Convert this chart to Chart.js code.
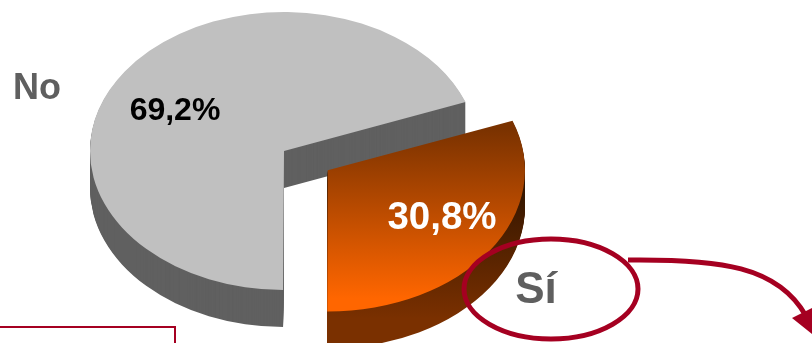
<!DOCTYPE html>
<html lang="es">
<head>
<meta charset="utf-8">
<title>Sí / No</title>
<script src="https://cdn.jsdelivr.net/npm/chart.js@4/dist/chart.umd.js"></script>
<style>
  html, body { margin: 0; padding: 0; background: #fff; overflow: hidden; }
  canvas { display: block; }
</style>
</head>
<body>
<canvas id="chart" width="812" height="343"></canvas>
<script>
// ── Data ──
const categories = ['Sí', 'No'];
const shares = [30.8, 69.2];
const explode = [141, 0];

// ── Look ──
const crimson = '#a50021';
const greyTop = '#c0c0c0';
const greyWall = '#606060';
const pieRadius = 139;
const stretchX = 194 / 139;   // pie is drawn as a circle, then flattened into an ellipse
const pieCentre = { x: 284, y: 151 };
const depth = 37;
const sliceNudge = [[2.4, -1], [0, 0]];

const labelSpots = {
  'No':    { name: [37, 89, 36, '#5f5f5f'], pct: [175, 111, 32, '#000'] },
  'Sí':    { name: [536, 291, 44, '#5f5f5f'], pct: [442, 218, 38.5, '#fff'] }
};

const fmt = v => v.toFixed(1).replace('.', ',') + '%';

function orangeTop(ctx) {
  const g = ctx.createLinearGradient(0, 130, 0, 300);
  g.addColorStop(0, '#7a3200');
  g.addColorStop(1, '#ff6600');
  return g;
}

function orangeWall(ctx, d) {
  // shifted by the layer depth so the shading stays put on screen
  const g = ctx.createLinearGradient(0, 175 - d, 0, 320 - d);
  g.addColorStop(0, '#2c1300');
  g.addColorStop(1, '#7a3000');
  return g;
}

function paint(ctx, el, fill) {
  const saved = el.options;
  el.options = Object.assign({}, saved, { backgroundColor: fill });
  el.draw(ctx);
  el.options = saved;
}

const pie3d = {
  id: 'pie3d',
  beforeDatasetDraw(chart, args) {
    const ctx = chart.ctx;
    const arcs = args.meta.data;
    const cx = arcs[0].x, cy = arcs[0].y;
    ctx.save();
    ctx.translate(pieCentre.x, pieCentre.y);
    ctx.scale(stretchX, 1);
    ctx.translate(-cx, -cy);
    // grey slice sits behind, the pulled out slice goes on top of it
    [1, 0].forEach(i => {
      ctx.save();
      ctx.translate(sliceNudge[i][0], sliceNudge[i][1]);
      for (let d = depth; d > 0; d--) {
        ctx.save();
        ctx.translate(0, d);
        paint(ctx, arcs[i], i === 1 ? greyWall : orangeWall(ctx, d));
        ctx.restore();
      }
      paint(ctx, arcs[i], i === 1 ? greyTop : orangeTop(ctx));
      ctx.restore();
    });
    ctx.restore();
    return false;
  },
  afterDatasetsDraw(chart) {
    const ctx = chart.ctx;
    ctx.save();
    ctx.strokeStyle = crimson;
    ctx.fillStyle = crimson;

    // note box peeking in at the bottom
    ctx.lineWidth = 2;
    ctx.beginPath();
    ctx.moveTo(0, 327);
    ctx.lineTo(175, 327);
    ctx.lineTo(175, 343);
    ctx.stroke();

    // ring round the Sí label
    ctx.lineWidth = 5;
    ctx.beginPath();
    ctx.ellipse(551, 289, 87, 50, 0, 0, Math.PI * 2);
    ctx.stroke();

    // arrow leaving the ring
    ctx.beginPath();
    ctx.moveTo(628, 260);
    ctx.bezierCurveTo(720, 259, 778, 266, 806, 316);
    ctx.stroke();
    ctx.beginPath();
    ctx.moveTo(792, 318);
    ctx.lineTo(824, 302);
    ctx.lineTo(826, 345);
    ctx.closePath();
    ctx.fill();

    // labels
    ctx.textAlign = 'center';
    ctx.textBaseline = 'middle';
    categories.forEach((name, i) => {
      const spot = labelSpots[name];
      ctx.font = `bold ${spot.name[2]}px "Liberation Sans", Arial, sans-serif`;
      ctx.fillStyle = spot.name[3];
      ctx.fillText(name, spot.name[0], spot.name[1]);
      ctx.font = `bold ${spot.pct[2]}px "Liberation Sans", Arial, sans-serif`;
      ctx.fillStyle = spot.pct[3];
      ctx.fillText(fmt(shares[i]), spot.pct[0], spot.pct[1]);
    });
    ctx.restore();
  }
};

new Chart(document.getElementById('chart'), {
  type: 'pie',
  data: {
    labels: categories,
    datasets: [{
      data: shares,
      backgroundColor: ['#ff6600', greyTop],
      borderWidth: 0,
      offset: explode,
      clip: false
    }]
  },
  options: {
    responsive: false,
    animation: false,
    radius: pieRadius,
    rotation: 69.4,
    layout: { padding: 0 },
    plugins: { legend: { display: false }, tooltip: { enabled: false } }
  },
  plugins: [pie3d]
});
</script>
</body>
</html>
